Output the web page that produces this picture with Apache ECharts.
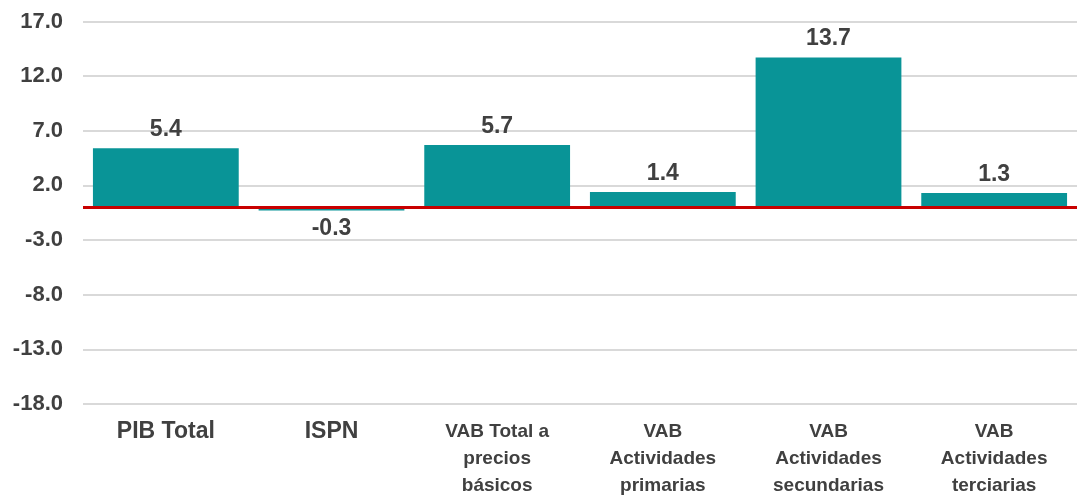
<!DOCTYPE html>
<html>
<head>
<meta charset="utf-8">
<script src="https://cdn.jsdelivr.net/npm/echarts@6/dist/echarts.min.js"></script>
<style>
  html, body { margin: 0; padding: 0; background: #fff; }
  #main { width: 1077px; height: 499px; }
</style>
</head>
<body>
<div id="main"></div>
<script>
var categories = ['PIB Total', 'ISPN', 'VAB Total a\nprecios\nbásicos', 'VAB\nActividades\nprimarias', 'VAB\nActividades\nsecundarias', 'VAB\nActividades\nterciarias'];
var values = [5.4, -0.3, 5.7, 1.4, 13.7, 1.3];

var chart = echarts.init(document.getElementById('main'));

// single-line labels are rendered a bit larger in the original
var catData = categories.map(function (c) {
  return c.indexOf('\n') < 0 ? { value: c, textStyle: { fontSize: 23 } } : c;
});

var barData = values.map(function (v) {
  return { value: v, label: { position: v < 0 ? 'bottom' : 'top' } };
});

var option = {
  animation: false,
  grid: { left: 83, right: 0, top: 21.5, bottom: 94, containLabel: false },
  xAxis: {
    type: 'category',
    data: catData,
    axisLine: { show: false },
    axisTick: { show: false },
    axisLabel: {
      color: '#404040',
      fontFamily: 'Liberation Sans, Arial, sans-serif',
      fontWeight: 'bold',
      fontSize: 19,
      lineHeight: 27,
      margin: 14,
      verticalAlign: 'top'
    }
  },
  yAxis: {
    type: 'value',
    min: -18,
    max: 17,
    interval: 5,
    axisLine: { show: false },
    axisTick: { show: false },
    splitLine: { lineStyle: { color: '#d9d9d9', width: 2 } },
    axisLabel: {
      color: '#404040',
      fontFamily: 'Liberation Sans, Arial, sans-serif',
      fontWeight: 'bold',
      fontSize: 22,
      margin: 20,
      formatter: function (v) { return v.toFixed(1); }
    }
  },
  series: [{
    type: 'bar',
    data: barData,
    barCategoryGap: '12%',
    itemStyle: { color: '#099497' },
    label: {
      show: true,
      color: '#404040',
      fontFamily: 'Liberation Sans, Arial, sans-serif',
      fontWeight: 'bold',
      fontSize: 23,
      distance: 7,
      formatter: function (p) { return p.value.toFixed(1); }
    },
    markLine: {
      silent: true,
      symbol: 'none',
      label: { show: false },
      lineStyle: { color: '#c80000', width: 3, type: 'solid' },
      data: [{ yAxis: 0 }]
    }
  }]
};

chart.setOption(option);
</script>
</body>
</html>
